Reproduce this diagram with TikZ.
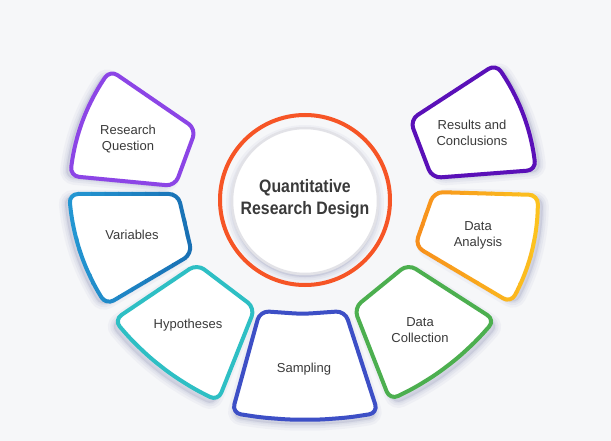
\documentclass[tikz,border=0pt]{standalone}
\usepackage{fontspec}
\setmainfont{Liberation Sans}
\newfontfamily\titlefont[FakeStretch=0.88]{Liberation Sans}
\usetikzlibrary{calc}
\definecolor{bg}{HTML}{F6F7F9}
\definecolor{txt}{HTML}{3A3A3A}
\definecolor{shc}{HTML}{AEB2CC}
\definecolor{cRQ}{HTML}{8C45E6}
\definecolor{cVarL}{HTML}{2396D2}
\definecolor{cVarR}{HTML}{1970B4}
\definecolor{cHyp}{HTML}{2EBFC4}
\definecolor{cSam}{HTML}{3D4FC6}
\definecolor{cCol}{HTML}{4CAF4F}
\definecolor{cAnaL}{HTML}{F78F1C}
\definecolor{cAnaR}{HTML}{FCC21F}
\definecolor{cRes}{HTML}{5A10B8}
\definecolor{cRing}{HTML}{F65526}
\definecolor{cInner}{HTML}{E2E2E7}
% four points on a bulging edge from #2 to #3, sagitta #4 (pt), outward angle #5
\newcommand\bulgepts[5]{%
  \coordinate (#1-1) at ($(#2)!0.2!(#3)!0.64*#4pt!#5:(#3)$);
  \coordinate (#1-2) at ($(#2)!0.4!(#3)!0.96*#4pt!#5:(#3)$);
  \coordinate (#1-3) at ($(#2)!0.6!(#3)!0.96*#4pt!#5:(#3)$);
  \coordinate (#1-4) at ($(#2)!0.8!(#3)!0.64*#4pt!#5:(#3)$);}
\def\pathVA{(va1) -- (va2) -- (va3) -- (va4) -- (vao-1) -- (vao-2) -- (vao-3) -- (vao-4) -- cycle}
\def\pathAN{(an1) -- (an2) -- (ano-1) -- (ano-2) -- (ano-3) -- (ano-4) -- (an3) -- (an4) -- cycle}
\begin{document}
\begin{tikzpicture}[x=1pt,y=-1pt,
  seg/.style={line width=4pt, fill=white, rounded corners=9pt, line join=round},
  segline/.style={line width=4pt, rounded corners=9pt, line join=round},
  shd/.style={
    preaction={draw=shc, fill=shc, line width=12pt, opacity=0.10, transform canvas={shift={#1}}},
    preaction={draw=shc, fill=shc, line width=7pt, opacity=0.14, transform canvas={shift={#1}}},
    preaction={draw=shc, fill=shc, line width=3pt, opacity=0.16, transform canvas={shift={#1}}}},
  lab/.style={align=center, text=txt, font=\fontsize{13}{16}\selectfont, inner sep=0pt}]
\fill[bg] (0,0) rectangle (611,441);
\useasboundingbox (0,0) rectangle (611,441);

% corner coordinates
\coordinate (rq1) at (110,70);  \coordinate (rq2) at (196,129); \coordinate (rq3) at (175,186); \coordinate (rq4) at (70,176);
\coordinate (va1) at (69,194);  \coordinate (va2) at (178,194); \coordinate (va3) at (192,254); \coordinate (va4) at (106,305);
\coordinate (hy1) at (197,264); \coordinate (hy2) at (255,308); \coordinate (hy3) at (218,401); \coordinate (hy4) at (114,320);
\coordinate (sa1) at (260,311); \coordinate (sa2) at (345,311); \coordinate (sa3) at (378,413); \coordinate (sa4) at (232,413);
\coordinate (co1) at (408,264); \coordinate (co2) at (495,320); \coordinate (co3) at (390,400); \coordinate (co4) at (354,308);
\coordinate (an1) at (434,192); \coordinate (an2) at (538,195); \coordinate (an3) at (511,303); \coordinate (an4) at (415,246);
\coordinate (re1) at (496,64);  \coordinate (re2) at (536,170); \coordinate (re3) at (432,178); \coordinate (re4) at (410,120);
\coordinate (sam) at ($(sa1)!0.5!(sa2)!3pt!-90:(sa2)$);

\bulgepts{rqo}{rq4}{rq1}{8}{90}
\bulgepts{vao}{va4}{va1}{8}{90}
\bulgepts{hyo}{hy3}{hy4}{8}{90}
\bulgepts{sao}{sa3}{sa4}{7}{90}
\bulgepts{coo}{co2}{co3}{8}{90}
\bulgepts{ano}{an2}{an3}{8}{90}
\bulgepts{reo}{re1}{re2}{8}{90}

% segments
\draw[seg, draw=cRQ, shd={(-5,2)}] (rq1) -- (rq2) -- (rq3) -- (rq4) -- (rqo-1) -- (rqo-2) -- (rqo-3) -- (rqo-4) -- cycle;

\fill[seg, white, shd={(-5,2)}] \pathVA;
\foreach \i in {0,...,9}{
  \pgfmathsetmacro\pct{100*\i/9}
  \begin{scope}
    \clip (64+13.5*\i,180) rectangle (78.5+13.5*\i,320);
    \draw[segline, draw=cVarR!\pct!cVarL] \pathVA;
  \end{scope}}

\draw[seg, draw=cHyp, shd={(-4,5)}] (hy1) -- (hy2) -- (hy3) -- (hyo-1) -- (hyo-2) -- (hyo-3) -- (hyo-4) -- (hy4) -- cycle;
\draw[seg, draw=cSam, shd={(0,5)}] (sa1) -- (sam) -- (sa2) -- (sa3) -- (sao-1) -- (sao-2) -- (sao-3) -- (sao-4) -- (sa4) -- cycle;
\draw[seg, draw=cCol, shd={(4,5)}] (co1) -- (co2) -- (coo-1) -- (coo-2) -- (coo-3) -- (coo-4) -- (co3) -- (co4) -- cycle;

\fill[seg, white, shd={(5,2)}] \pathAN;
\foreach \i in {0,...,9}{
  \pgfmathsetmacro\pct{100*\i/9}
  \begin{scope}
    \clip (410+13.5*\i,180) rectangle (424.5+13.5*\i,320);
    \draw[segline, draw=cAnaR!\pct!cAnaL] \pathAN;
  \end{scope}}

\draw[seg, draw=cRes, shd={(5,2)}] (re1) -- (reo-1) -- (reo-2) -- (reo-3) -- (reo-4) -- (re2) -- (re3) -- (re4) -- cycle;

% centre
\draw[cRing, line width=4pt] (305,200) circle (85);
\draw[cInner, line width=2.5pt, fill=white, shd={(0,3)}] (305,201) circle (73);

\node[lab] (rq) at (128,139) {Research\\Question};
\node[lab] (var) at (132,235) {Variables};
\node[lab] (hyp) at (188,325) {Hypotheses};
\node[lab] (samp) at (304,369) {Sampling};
\node[lab] (col) at (420,330) {Data\\Collection};
\node[lab] (ana) at (478,235) {Data\\Analysis};
\node[lab] (res) at (472,133) {Results and\\Conclusions};
\node[align=center, text=txt, inner sep=0pt, font=\titlefont\bfseries\fontsize{18}{22}\selectfont] (title) at (305,199) {Quantitative\\Research Design};
\end{tikzpicture}
\end{document}
